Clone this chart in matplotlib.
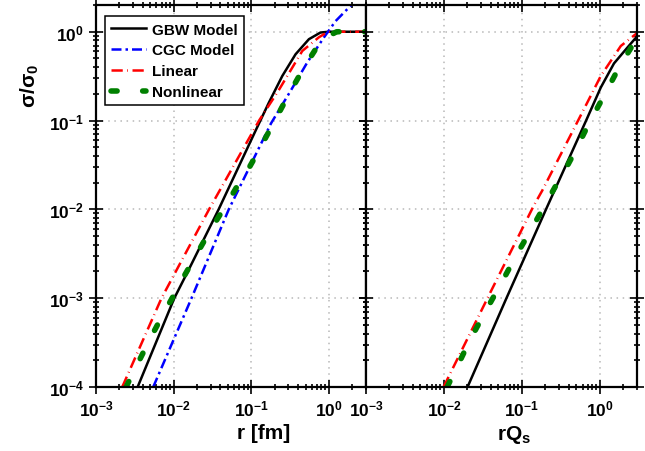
import numpy as np
import matplotlib
matplotlib.use('Agg')
from matplotlib import pyplot as plt
from matplotlib.ticker import LogLocator, FuncFormatter, NullFormatter

plt.rcParams['font.family'] = ['Liberation Sans', 'DejaVu Sans']
plt.rcParams['font.weight'] = 'bold'
plt.rcParams['mathtext.fontset'] = 'custom'
plt.rcParams['mathtext.rm'] = 'Liberation Sans:bold'
plt.rcParams['mathtext.it'] = 'Liberation Sans:bold'
plt.rcParams['mathtext.bf'] = 'Liberation Sans:bold'

# left panel: sigma/sigma0 vs r [fm]
gbw_r = [0.00344, 0.0102, 0.0158, 0.0380, 0.116, 0.169, 0.251, 0.372, 0.552, 0.778, 1.0, 3.0]
gbw_s = [1.0e-4, 1.0e-3, 0.00213, 0.0100, 0.0800, 0.160, 0.318, 0.558, 0.824, 0.980, 1.0, 1.0]

cgc_r = [0.00546, 0.0170, 0.0513, 0.180, 0.321, 0.526, 0.861, 1.22, 2.0]
cgc_s = [1.0e-4, 1.0e-3, 0.0100, 0.0933, 0.216, 0.451, 0.861, 1.32, 2.05]

lin_r = [0.00218, 0.00698, 0.0286, 0.126, 0.223, 0.454, 0.741, 0.904, 1.0, 3.0]
lin_s = [1.0e-4, 1.0e-3, 0.0100, 0.100, 0.216, 0.608, 0.865, 0.962, 1.0, 1.0]

nl_r = [0.00244, 0.00327, 0.00484, 0.00679, 0.00968, 0.0123, 0.0193, 0.0294, 0.0483,
        0.0662, 0.0933, 0.123, 0.206, 0.305, 0.476, 0.673, 0.904, 1.26, 3.0]
nl_s = [1.0e-4, 1.67e-4, 3.33e-4, 5.83e-4, 1.02e-3, 1.51e-3, 3.01e-3, 5.74e-3, 0.0115,
        0.0184, 0.0292, 0.0449, 0.104, 0.198, 0.395, 0.635, 0.861, 1.0, 1.0]

# right panel: sigma/sigma0 vs rQs
gbw_rq = [0.0201, 0.0634, 0.204, 0.667, 1.03, 1.52, 2.26, 2.99]
gbw_sq = [1.0e-4, 1.0e-3, 0.0100, 0.100, 0.236, 0.44, 0.664, 0.883]

lin_rq = [0.00989, 0.0394, 0.142, 0.182, 0.692, 1.03, 1.86, 2.99]
lin_sq = [1.0e-4, 1.16e-3, 0.0110, 0.0162, 0.160, 0.318, 0.692, 0.962]

nl_rq = [0.0110, 0.0147, 0.0214, 0.0302, 0.0435, 0.0557, 0.0851, 0.129, 0.201, 0.270,
         0.373, 0.478, 0.723, 1.16, 1.76, 2.48, 2.90]
nl_sq = [1.0e-4, 1.67e-4, 3.33e-4, 5.83e-4, 1.04e-3, 1.53e-3, 3.06e-3, 5.74e-3, 0.0115,
         0.0182, 0.0296, 0.0445, 0.0923, 0.198, 0.395, 0.647, 0.838]

fig = plt.figure(figsize=(6.45, 4.52), dpi=100)
ax1 = fig.add_axes([0.1488, 0.1416, 0.4186, 0.8451])
ax2 = fig.add_axes([0.5674, 0.1416, 0.4202, 0.8451])

lw = 1.8
blk = dict(color='black', lw=lw, ls='-')
blu = dict(color='blue', lw=lw, ls=(0, (4, 1.6, 1, 1.6)))
red = dict(color='red', lw=lw, ls=(0, (4.5, 1.8, 0.3, 1.8)))
grn = dict(color='green', lw=4.0, ls=(0, (1.1, 4.6)), dash_capstyle='round')

ax1.plot(gbw_r, gbw_s, label='GBW Model', **blk)
ax1.plot(cgc_r, cgc_s, label='CGC Model', **blu)
ax1.plot(lin_r, lin_s, label='Linear', **red)
ax1.plot(nl_r, nl_s, label='Nonlinear', **grn)

ax2.plot(gbw_rq, gbw_sq, **blk)
ax2.plot(lin_rq, lin_sq, **red)
ax2.plot(nl_rq, nl_sq, **grn)


def sci(v, pos):
    return r'$\mathbf{10^{%d}}$' % int(round(np.log10(v)))


for ax in (ax1, ax2):
    ax.set_xscale('log')
    ax.set_yscale('log')
    ax.set_xlim(1e-3, 3)
    ax.set_ylim(1e-4, 2)
    ax.xaxis.set_major_locator(LogLocator(base=10, numticks=10))
    ax.xaxis.set_minor_locator(LogLocator(base=10, subs=np.arange(2, 10), numticks=20))
    ax.yaxis.set_major_locator(LogLocator(base=10, numticks=10))
    ax.yaxis.set_minor_locator(LogLocator(base=10, subs=np.arange(2, 10), numticks=20))
    ax.xaxis.set_major_formatter(FuncFormatter(sci))
    ax.yaxis.set_major_formatter(FuncFormatter(sci))
    ax.xaxis.set_minor_formatter(NullFormatter())
    ax.yaxis.set_minor_formatter(NullFormatter())
    ax.tick_params(which='both', direction='inout', top=True, right=True, width=1.2,
                   labelsize=12.5)
    ax.tick_params(which='major', length=10)
    ax.tick_params(which='minor', length=5)
    ax.grid(True, which='major', color='#b8b8b8', ls=(0, (1, 3)), lw=1.1)
    for sp in ax.spines.values():
        sp.set_linewidth(1.6)

ax2.tick_params(labelleft=False)

ax1.set_xlabel('r [fm]', fontsize=15, fontweight='bold')
ax2.set_xlabel('rQ$_\\mathbf{s}$', fontsize=15, fontweight='bold')
ax1.set_ylabel('σ/σ$_\\mathbf{0}$', fontsize=15, fontweight='bold')
ax1.xaxis.set_label_coords(0.62, -0.095)
ax2.xaxis.set_label_coords(0.545, -0.095)
ax1.yaxis.set_label_coords(-0.205, 0.79)

leg = ax1.legend(loc='upper left', bbox_to_anchor=(0.005, 0.99), fontsize=11,
                 frameon=True, fancybox=False, framealpha=1, edgecolor='black',
                 handlelength=2.3, labelspacing=0.45, borderpad=0.4, handletextpad=0.4)
leg.get_frame().set_linewidth(1.1)

fig.savefig('out.png', dpi=100)
